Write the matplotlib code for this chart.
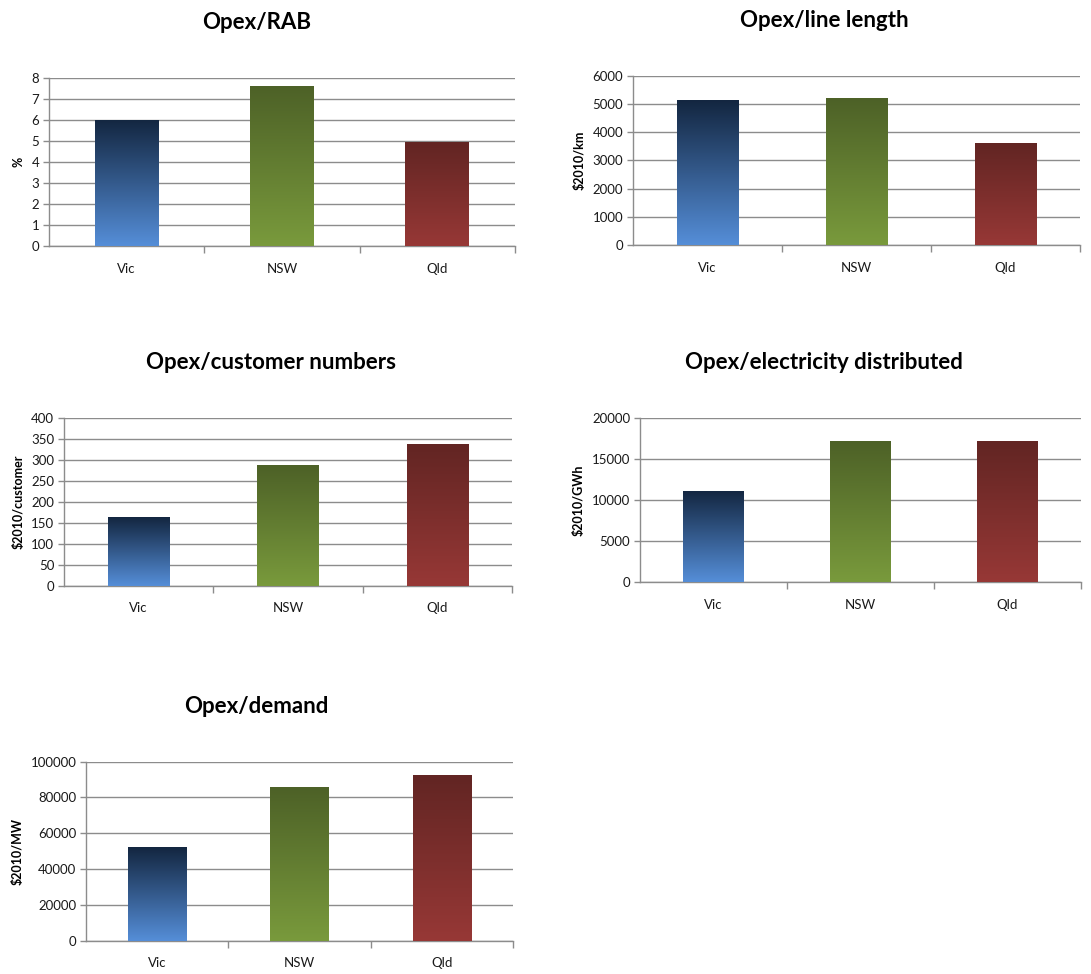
import numpy as np
import matplotlib
matplotlib.use("Agg")
import matplotlib.pyplot as plt
from matplotlib.colors import LinearSegmentedColormap

plt.rcParams['font.family'] = ['Lato', 'DejaVu Sans']

states = ["Vic", "NSW", "Qld"]

opex_rab = [6.02, 7.62, 4.95]
opex_line = [5140, 5210, 3610]
opex_customer = [163, 288, 339]
opex_energy = [11100, 17150, 17150]
opex_demand = [52100, 85700, 92600]

# (title, values, ylabel, ymax, ystep, axes rect, title centre x)
panels = [
    ("Opex/RAB", opex_rab, "%", 8, 1, [0.0449, 0.7474, 0.4271, 0.1725], 0.235),
    ("Opex/line length", opex_line, "$2010/km", 6000, 1000, [0.5802, 0.7485, 0.4097, 0.1735], 0.756),
    ("Opex/customer numbers", opex_customer, "$2010/customer", 400, 50, [0.0587, 0.3987, 0.4106, 0.1719], 0.248),
    ("Opex/electricity distributed", opex_energy, "$2010/GWh", 20000, 5000, [0.5866, 0.4022, 0.4042, 0.1687], 0.755),
    ("Opex/demand", opex_demand, "$2010/MW", 100000, 20000, [0.0788, 0.0342, 0.3914, 0.1838], 0.235),
]

# bar gradients, dark at top to light at base
bar_grads = [
    ("#132640", "#558ed8"),
    ("#4d6127", "#799a3c"),
    ("#622523", "#973836"),
]
grid_col = "#8c8c8c"
bar_w = 0.41

fig = plt.figure(figsize=(10.91, 9.74), dpi=100)

for title, vals, ylab, ymax, ystep, rect, tx in panels:
    ax = fig.add_axes(rect)
    bars = ax.bar(range(len(states)), vals, width=bar_w, color="none", zorder=3)
    grad = np.linspace(0, 1, 256).reshape(-1, 1)
    for b, (top, base) in zip(bars, bar_grads):
        cmap = LinearSegmentedColormap.from_list("g", [base, top])
        x0, y0 = b.get_x(), b.get_y()
        im = ax.imshow(grad, cmap=cmap, origin="lower", aspect="auto",
                       extent=[x0, x0 + b.get_width(), y0, y0 + b.get_height()],
                       zorder=3)
        im.set_clip_path(b)
    ax.set_xlim(-0.5, len(states) - 0.5)
    ax.set_ylim(0, ymax)

    ax.set_yticks(np.arange(0, ymax + ystep / 2, ystep))
    ax.yaxis.grid(True, color=grid_col, linewidth=1.0, zorder=0)
    ax.set_axisbelow(True)
    ax.tick_params(axis="y", length=4, width=1, color=grid_col, labelsize=9.5,
                   pad=3, labelcolor="#1a1a1a")

    ax.set_xticks(range(len(states)))
    ax.set_xticklabels(states)
    ax.set_xticks([0.5, 1.5, 2.5], minor=True)
    ax.tick_params(axis="x", which="major", length=0, pad=12, labelsize=9.5,
                   labelcolor="#1a1a1a")
    ax.tick_params(axis="x", which="minor", length=5, width=1, color=grid_col)

    for s in ("top", "right"):
        ax.spines[s].set_visible(False)
    for s in ("left", "bottom"):
        ax.spines[s].set_color(grid_col)
        ax.spines[s].set_linewidth(1.0)

    ax.set_ylabel(ylab, fontsize=9, fontweight="bold", labelpad=5)

    # chart title sits above the whole chart area, not just the plot box
    top_y = rect[1] + rect[3]
    fig.text(tx, top_y + 0.057, title, fontsize=16, fontweight="bold",
             ha="center", va="center")

fig.savefig("out.png", dpi=100)
